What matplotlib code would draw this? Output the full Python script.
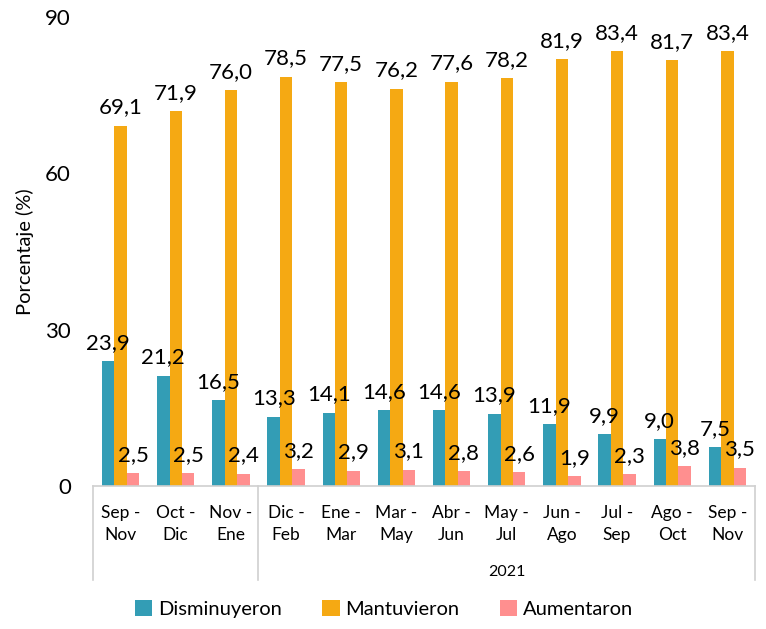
"""Bar chart: percentage that decreased / kept / increased, by three-month period."""
import matplotlib

matplotlib.use("Agg")
import matplotlib.pyplot as plt
import numpy as np

periods = ["Sep -\nNov", "Oct -\nDic", "Nov -\nEne", "Dic -\nFeb", "Ene -\nMar",
           "Mar -\nMay", "Abr -\nJun", "May -\nJul", "Jun -\nAgo", "Jul -\nSep",
           "Ago -\nOct", "Sep -\nNov"]
year_groups = [("", 0, 3), ("2021", 3, 12)]
disminuyeron = [23.9, 21.2, 16.5, 13.3, 14.1, 14.6, 14.6, 13.9, 11.9, 9.9, 9.0, 7.5]
mantuvieron = [69.1, 71.9, 76.0, 78.5, 77.5, 76.2, 77.6, 78.2, 81.9, 83.4, 81.7, 83.4]
aumentaron = [2.5, 2.5, 2.4, 3.2, 2.9, 3.1, 2.8, 2.6, 1.9, 2.3, 3.8, 3.5]

series = [
    ("Disminuyeron", disminuyeron, "#339db5"),
    ("Mantuvieron", mantuvieron, "#f5a913"),
    ("Aumentaron", aumentaron, "#ff8f8f"),
]

plt.rcParams["font.family"] = ["Lato", "DejaVu Sans"]

fig = plt.figure(figsize=(7.66, 6.29), dpi=100)
ax = fig.add_axes([0.1214, 0.2273, 0.8642, 0.7457])

x = np.arange(len(periods))
width = 0.225
for i, (name, vals, color) in enumerate(series):
    pos = x + (i - 1) * width
    ax.bar(pos, vals, width=width, color=color, label=name)
    for p, v in zip(pos, vals):
        ax.text(p, v + 1.6, f"{v:.1f}".replace(".", ","), ha="center",
                va="bottom", fontsize=16)

ax.set_xlim(-0.5, len(periods) - 0.5)
ax.set_ylim(0, 90)
ax.set_yticks([0, 30, 60, 90])
ax.tick_params(axis="y", length=0, labelsize=16, pad=16)
ax.set_xticks([])
ax.set_ylabel("Porcentaje (%)", fontsize=14.5, labelpad=8)
for side in ["top", "right", "left"]:
    ax.spines[side].set_visible(False)
ax.spines["bottom"].set_color("#d0d0d0")
ax.spines["bottom"].set_linewidth(1.2)

# two-level category axis
trans = ax.get_xaxis_transform()
for xi, lab in zip(x, periods):
    ax.text(xi, -0.04, lab, transform=trans, ha="center", va="top",
            fontsize=12.5, linespacing=1.45)
for year, start, end in year_groups:
    ax.text((start + end - 1) / 2, -0.183, year, transform=trans,
            ha="center", va="center", fontsize=11.5)
for b in [-0.5, 2.5, len(periods) - 0.5]:
    ax.plot([b, b], [0, -0.2], transform=trans, color="#d0d0d0", lw=1.2,
            clip_on=False)

ax.legend(loc="upper center", bbox_to_anchor=(0.44, -0.205), ncol=3,
          frameon=False, fontsize=14.5, handlelength=0.85, handleheight=0.85,
          handletextpad=0.3, columnspacing=2.0)

fig.savefig("out.png", dpi=100)
plt.close(fig)
